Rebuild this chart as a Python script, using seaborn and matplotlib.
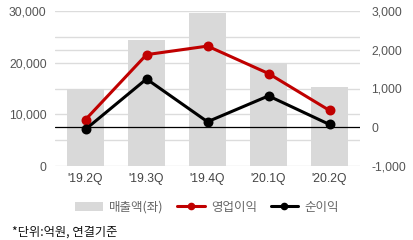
import numpy as np
import pandas as pd
import matplotlib
matplotlib.use("Agg")
import matplotlib.pyplot as plt
import seaborn as sns
from matplotlib.patches import Patch
from matplotlib.lines import Line2D

quarters = ["'19.2Q", "'19.3Q", "'19.4Q", "'20.1Q", "'20.2Q"]
sales = [15000, 24300, 29500, 19900, 15200]
op_profit = [200, 1870, 2090, 1385, 436]
net_profit = [-50, 1245, 145, 810, 75]
left_ticks = [0, 10000, 20000, 30000]
right_ticks = [-1000, 0, 1000, 2000, 3000]

sns.set_theme(style="white")
plt.rcParams['font.family'] = ['Liberation Sans', 'Noto Sans CJK KR', 'DejaVu Sans']

df = pd.DataFrame({"q": quarters, "sales": sales, "op": op_profit, "net": net_profit})

fig = plt.figure(figsize=(4.14, 2.40), dpi=100)
ax = fig.add_axes([55/414, 1-166.3/240, 305/414, (166.3-10.7)/240])

rmin, rmax, lmin, lmax = -1000, 3000, 0, 30000
ax.set_ylim(lmin, lmax)
ax.set_yticks(np.arange(0, 30001, 5000))
ax.set_yticklabels(["0", "", "10,000", "", "20,000", "", "30,000"])
minor = [(v - rmin) / (rmax - rmin) * (lmax - lmin) for v in right_ticks if v != 0]
ax.set_yticks(minor, minor=True)
ax.grid(True, axis='y', which='both', color='#dcdcdc', linewidth=1.0, zorder=0)
ax.set_axisbelow(True)

sns.barplot(data=df, x="q", y="sales", color="#d9d9d9", saturation=1, width=0.62,
            ax=ax, zorder=2, edgecolor='none')
ax.set_xlim(-0.5, 4.5)
ax.set_xlabel("")
ax.set_ylabel("")
ax.tick_params(axis='y', which='both', length=0, labelsize=8.7, labelcolor='#555555', pad=6)
ax.tick_params(axis='x', length=0, labelsize=8.7, labelcolor='#444444', pad=5)
for s in ax.spines.values():
    s.set_visible(False)

ax2 = ax.twinx()
ax2.set_ylim(rmin, rmax)
ax2.axhline(0, color='black', linewidth=0.9, zorder=1)
sns.pointplot(data=df, x="q", y="op", color="#c00000", ax=ax2, markersize=5.5,
              linewidth=2.2, markers="o")
sns.pointplot(data=df, x="q", y="net", color="#000000", ax=ax2, markersize=5.5,
              linewidth=2.2, markers="o")
ax2.set_xlim(-0.5, 4.5)
ax2.set_ylim(rmin, rmax)
ax2.set_yticks(right_ticks)
ax2.set_yticklabels([f"{v:,}" for v in right_ticks])
ax2.set_ylabel("")
ax2.set_xlabel("")
ax2.tick_params(axis='y', length=0, labelsize=8.7, labelcolor='#555555', pad=8)
for s in ax2.spines.values():
    s.set_visible(False)

handles = [
    Patch(facecolor="#d9d9d9", edgecolor='none'),
    Line2D([0], [0], color="#c00000", lw=2.2, marker='o', markersize=4.5),
    Line2D([0], [0], color="#000000", lw=2.2, marker='o', markersize=4.5),
]
labels = ["매출액(좌)", "영업이익", "순이익"]
fig.legend(handles, labels, loc='center', bbox_to_anchor=(0.5, 1-207/240), ncol=3,
           frameon=False, labelcolor='#666666', handlelength=2.2,
           handletextpad=0.5, columnspacing=1.1,
           prop={'family': ['Noto Sans CJK KR', 'DejaVu Sans'], 'size': 9.0})

fig.text(12/414, 1-232/240, "*단위:억원, 연결기준", fontsize=8.8, color='#111111',
         va='center', ha='left', family=['Noto Sans CJK KR', 'DejaVu Sans'])

fig.savefig("out.png", dpi=100)
